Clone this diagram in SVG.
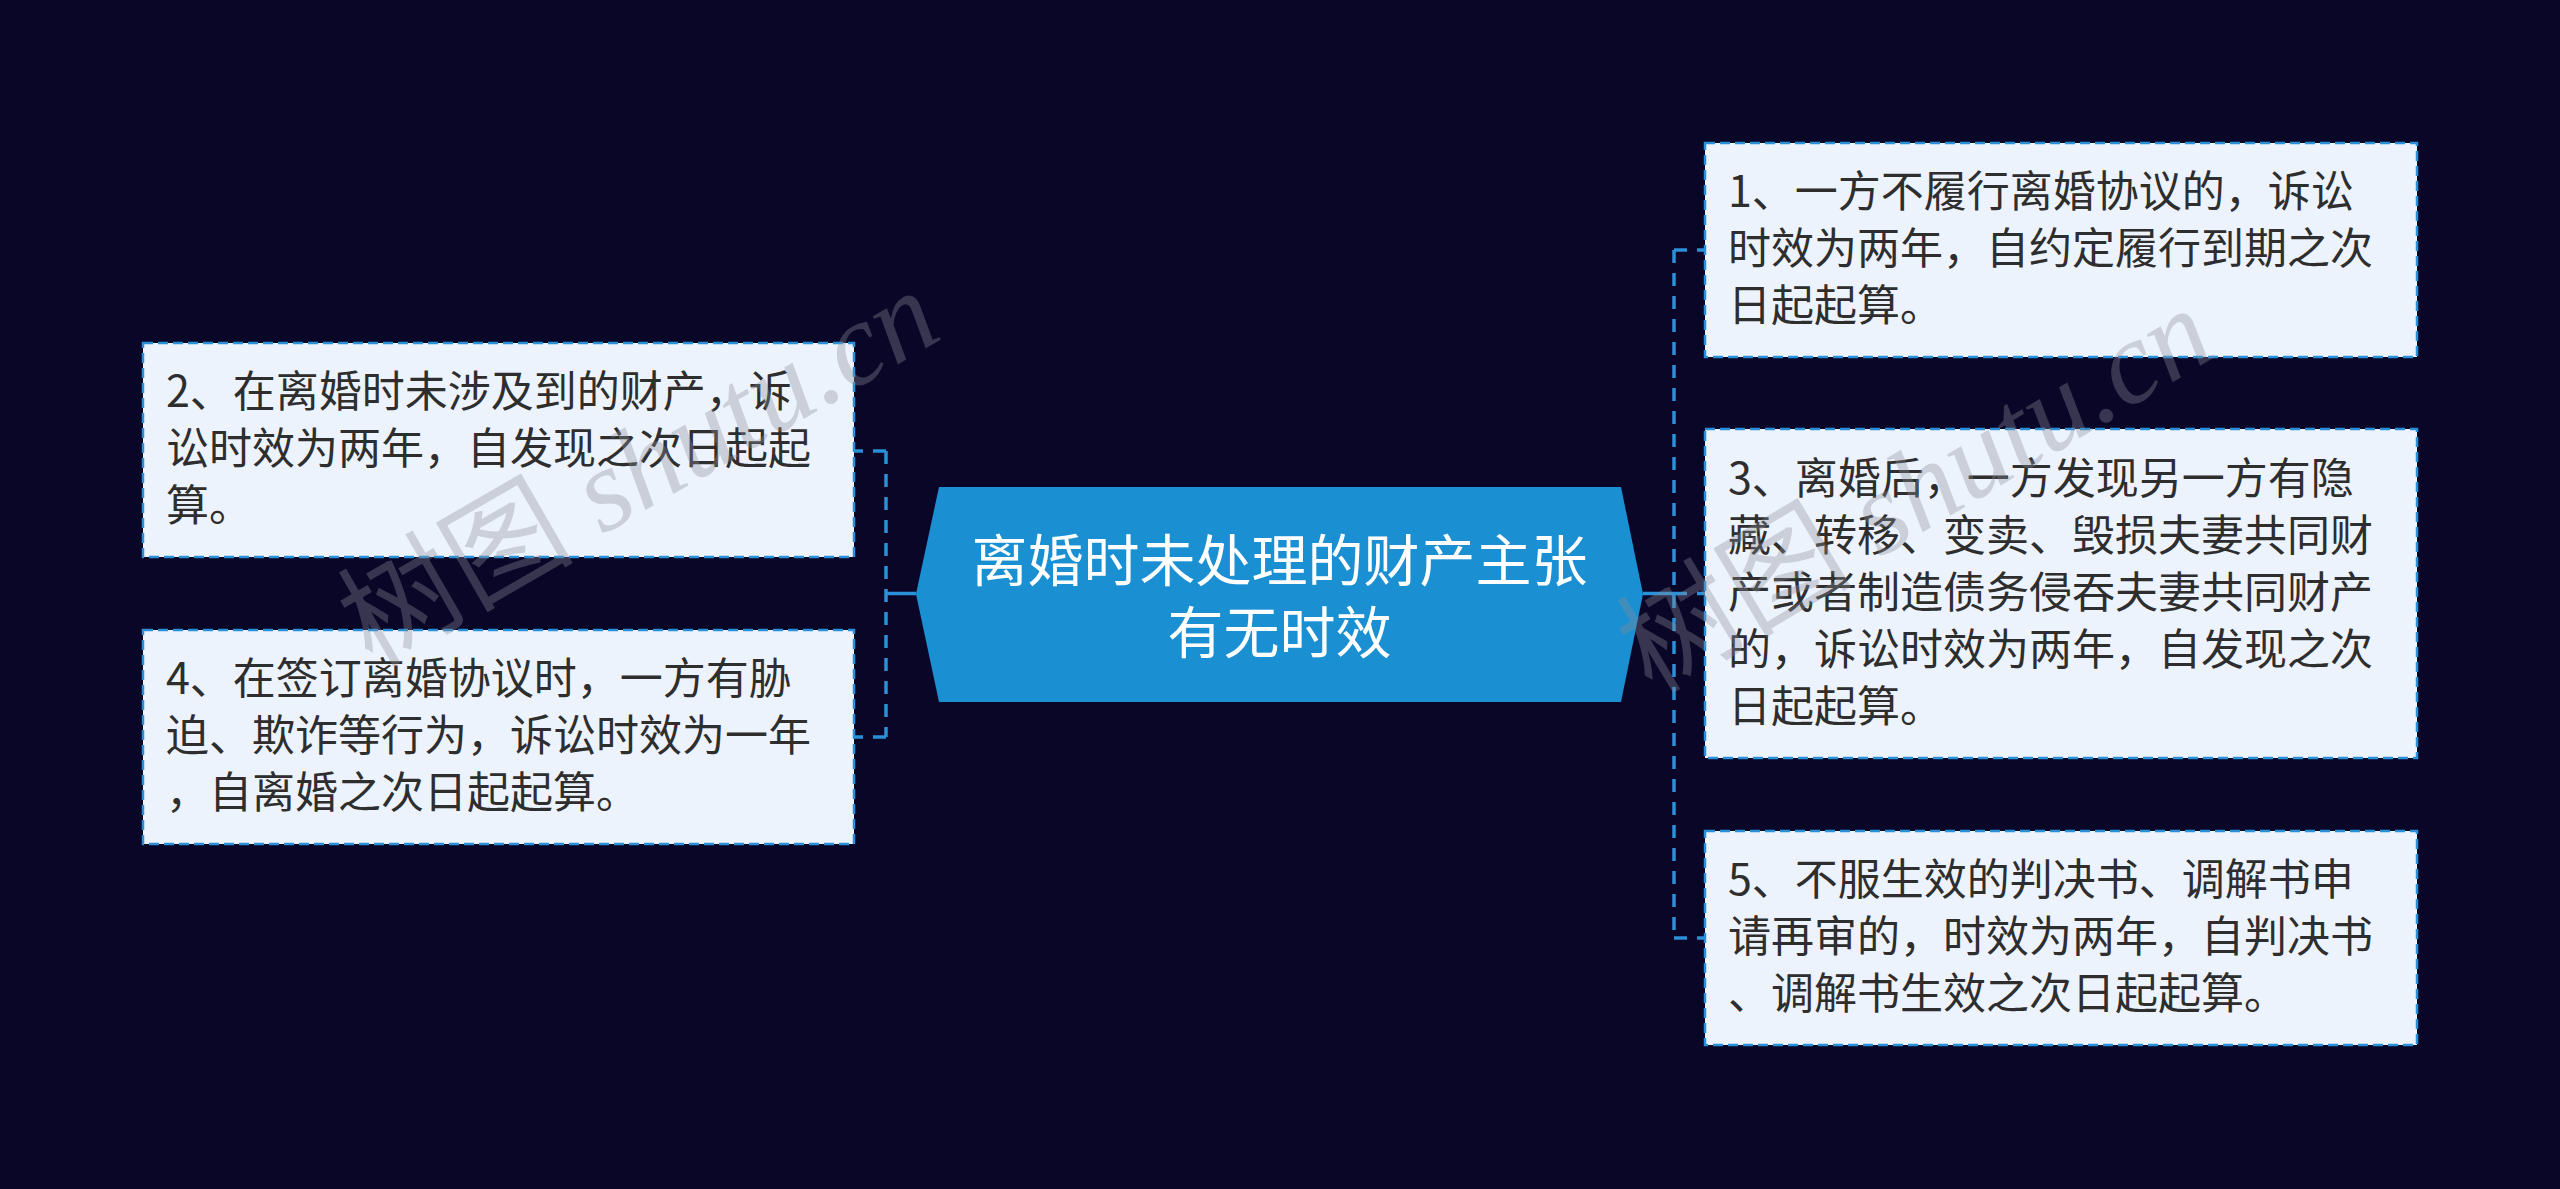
<svg xmlns="http://www.w3.org/2000/svg" width="2560" height="1189" viewBox="0 0 2560 1189">
<style>
.bg{fill:#0a0628}
.node{fill:#edf3fd;stroke:#2a8fd6;stroke-width:2.5;stroke-dasharray:10 5}
.main{fill:#1a8fd2}
.t{font-family:"Noto Sans CJK SC","Noto Sans",sans-serif;font-size:43px;fill:#2e2e2e}
.mt{font-family:"Noto Sans CJK SC","Noto Sans",sans-serif;font-size:56px;fill:#ffffff;text-anchor:middle}
.solid{stroke:#2a90d8;stroke-width:3.5;fill:none}
.dash{stroke:#2a90d8;stroke-width:3.5;fill:none;stroke-dasharray:13 10}
.wm{font-family:"Liberation Serif","Noto Sans CJK SC",serif;font-size:118px;fill:#8a8e98;opacity:0.35}
</style>
<rect class="bg" x="0" y="0" width="2560" height="1189"/>
<g id="connectors">
<line class="solid" x1="886" y1="593.5" x2="916" y2="593.5"/>
<line class="dash" x1="886" y1="451" x2="886" y2="737"/>
<line class="dash" x1="886" y1="451" x2="854" y2="451"/>
<line class="dash" x1="886" y1="737" x2="854" y2="737"/>
<line class="solid" x1="1643" y1="593.5" x2="1674" y2="593.5"/>
<line class="dash" x1="1674" y1="250" x2="1674" y2="938"/>
<line class="dash" x1="1674" y1="250" x2="1705" y2="250"/>
<line class="dash" x1="1674" y1="593.5" x2="1705" y2="593.5"/>
<line class="dash" x1="1674" y1="938" x2="1705" y2="938"/>
</g>
<g id="center">
<polygon class="main" points="916,594 939,487 1621,487 1643,594 1621,702 939,702"/>
<text class="mt" x="1279.5" y="581">离婚时未处理的财产主张</text>
<text class="mt" x="1279.5" y="653">有无时效</text>
</g>
<g id="node2">
<rect class="node" x="143" y="343" width="711" height="214"/>
<text class="t" x="166" y="407">2、在离婚时未涉及到的财产，诉</text>
<text class="t" x="166" y="464">讼时效为两年，自发现之次日起起</text>
<text class="t" x="166" y="521">算。</text>
</g>
<g id="node4">
<rect class="node" x="143" y="630" width="711" height="214"/>
<text class="t" x="166" y="694">4、在签订离婚协议时，一方有胁</text>
<text class="t" x="166" y="751">迫、欺诈等行为，诉讼时效为一年</text>
<text class="t" x="166" y="808">，自离婚之次日起起算。</text>
</g>
<g id="node1">
<rect class="node" x="1705" y="143" width="712" height="214"/>
<text class="t" x="1728" y="207">1、一方不履行离婚协议的，诉讼</text>
<text class="t" x="1728" y="264">时效为两年，自约定履行到期之次</text>
<text class="t" x="1728" y="321">日起起算。</text>
</g>
<g id="node3">
<rect class="node" x="1705" y="429" width="712" height="329"/>
<text class="t" x="1728" y="493.5">3、离婚后，一方发现另一方有隐</text>
<text class="t" x="1728" y="550.5">藏、转移、变卖、毁损夫妻共同财</text>
<text class="t" x="1728" y="607.5">产或者制造债务侵吞夫妻共同财产</text>
<text class="t" x="1728" y="664.5">的，诉讼时效为两年，自发现之次</text>
<text class="t" x="1728" y="721.5">日起起算。</text>
</g>
<g id="node5">
<rect class="node" x="1705" y="831" width="712" height="214"/>
<text class="t" x="1728" y="895">5、不服生效的判决书、调解书申</text>
<text class="t" x="1728" y="952">请再审的，时效为两年，自判决书</text>
<text class="t" x="1728" y="1009">、调解书生效之次日起起算。</text>
</g>
<g id="watermarks">
<text class="wm" transform="translate(372,668) rotate(-30)">树图 <tspan font-style="italic">shutu.cn</tspan></text>
<text class="wm" transform="translate(1652,695) rotate(-31)">树图 <tspan font-style="italic">shutu.cn</tspan></text>
</g>
</svg>
